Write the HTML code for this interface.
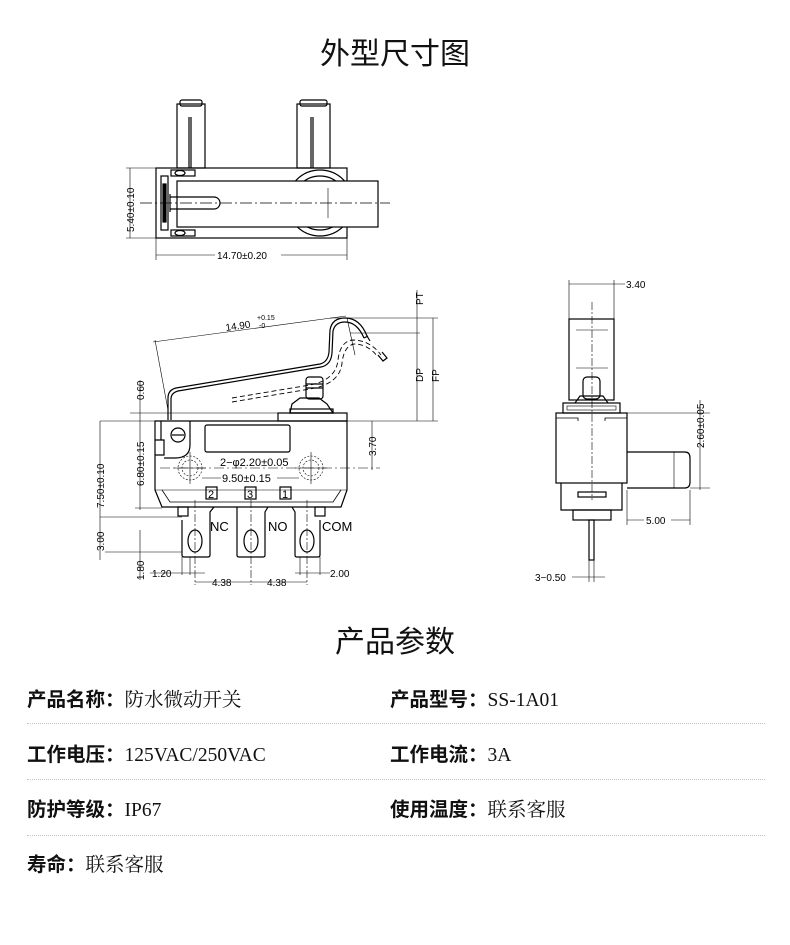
<!DOCTYPE html>
<html><head><meta charset="utf-8"><style>
html,body{margin:0;padding:0;background:#fff;}
body{width:790px;height:945px;position:relative;overflow:hidden;font-family:"Liberation Sans","Noto Sans CJK SC",sans-serif;}
.h{position:absolute;left:0;width:790px;text-align:center;font-size:30px;color:#111;font-family:"Noto Sans CJK SC",sans-serif;}
.row{position:absolute;font-size:19.5px;color:#111;white-space:nowrap;}
.row b{font-family:"Noto Sans CJK SC",sans-serif;font-weight:bold;}
.row span{font-family:"Liberation Serif","Noto Serif CJK SC",serif;}
.line{position:absolute;left:27px;width:738px;border-top:1px dotted #c4c4c4;}
svg{position:absolute;left:0;top:0;}
</style></head><body>
<div class="h" style="top:29px;">外型尺寸图</div>
<div class="h" style="top:617px;">产品参数</div>

<svg width="790" height="600" viewBox="0 0 790 600" fill="none" stroke="#000" stroke-width="1.2" font-family="Liberation Sans, sans-serif">
<!-- TOP VIEW -->
<g>
<rect x="177" y="104" width="28" height="64"/>
<rect x="180" y="100" width="22" height="6" rx="2"/>
<line x1="189" y1="117" x2="189" y2="168"/><line x1="191" y1="117" x2="191" y2="168"/>
<rect x="297" y="104" width="33" height="64"/>
<rect x="300" y="100" width="27" height="6" rx="2"/>
<line x1="311" y1="117" x2="311" y2="168"/><line x1="313" y1="117" x2="313" y2="168"/>
<rect x="156" y="168" width="191" height="70"/>
<circle cx="320" cy="203" r="33"/>
<circle cx="320" cy="203" r="27"/>
<rect x="177" y="181" width="201" height="46" fill="#fff"/>
<rect x="171" y="170" width="24" height="6"/><rect x="171" y="230" width="24" height="6"/>
<ellipse cx="180" cy="173" rx="5" ry="2.5"/><ellipse cx="180" cy="233" rx="5" ry="2.5"/>
<rect x="161" y="176" width="7" height="54"/>
<rect x="163" y="184" width="3" height="38" fill="#000"/>
<path d="M170 197 H214 A6 6 0 0 1 214 209 H170"/>
<line x1="170" y1="194" x2="170" y2="212"/>
<line x1="140" y1="203" x2="390" y2="203" stroke-width="0.7" stroke-dasharray="12,3,2,3"/>
<line x1="328" y1="188" x2="328" y2="218" stroke-width="0.6"/>
<line x1="126" y1="168" x2="156" y2="168" stroke-width="0.6"/>
<line x1="126" y1="238" x2="156" y2="238" stroke-width="0.6"/>
<line x1="130" y1="168" x2="130" y2="238" stroke-width="0.6"/>
<text x="134" y="232" transform="rotate(-90 134 232)" font-size="10" fill="#000" stroke="none">5.40±0.10</text>
<line x1="156" y1="238" x2="156" y2="260" stroke-width="0.6"/>
<line x1="347" y1="238" x2="347" y2="260" stroke-width="0.6"/>
<line x1="156" y1="255" x2="347" y2="255" stroke-width="0.6"/>
<rect x="215" y="249" width="66" height="11" fill="#fff" stroke="none"/>
<text x="217" y="259" font-size="10" fill="#000" stroke="none">14.70±0.20</text>
</g>

<!-- FRONT VIEW -->
<g>
<path d="M155 421 H347 V490 L341 507 H162 L155 490 Z"/>
<line x1="155" y1="490" x2="347" y2="490" stroke-width="0.6"/>
<path d="M162 490 L170 502 H333 L341 490" stroke-width="0.8"/>
<rect x="278" y="413" width="69" height="8"/>
<path d="M290 413 L292 404 L300 398 H319 L327 404 L333 413 Z"/>
<rect x="290" y="409" width="43" height="4"/>
<rect x="306" y="377" width="17" height="22" rx="3"/>
<line x1="306" y1="384" x2="323" y2="384"/><line x1="306" y1="388" x2="323" y2="388"/>
<path d="M155 440 H164 V455 H155"/>
<path d="M161 421 V440" />
<circle cx="178" cy="435" r="7"/><line x1="172" y1="435" x2="184" y2="435"/>
<path d="M190 421 V445 Q190 458 175 458 H164"/>
<rect x="205" y="425" width="85" height="27" rx="2"/>
<g stroke-width="0.6" stroke-dasharray="2,1.5">
<circle cx="190" cy="468" r="12"/><circle cx="190" cy="468" r="8"/>
<circle cx="311" cy="468" r="12"/><circle cx="311" cy="468" r="8"/>
</g>
<g stroke-width="0.6">
<line x1="190" y1="452" x2="190" y2="484"/><line x1="174" y1="468" x2="206" y2="468"/>
<line x1="311" y1="452" x2="311" y2="484"/><line x1="295" y1="468" x2="327" y2="468"/>
<line x1="160" y1="468" x2="380" y2="468" stroke-dasharray="10,3,2,3"/>
</g>
<text x="220" y="466" font-size="11" fill="#000" stroke="none">2−φ2.20±0.05</text>
<line x1="202" y1="478" x2="299" y2="478" stroke-width="0.6"/>
<rect x="221" y="472" width="56" height="11" fill="#fff" stroke="none"/>
<text x="222" y="482" font-size="11" fill="#000" stroke="none">9.50±0.15</text>
<rect x="206" y="487" width="11" height="12"/><text x="208" y="498" font-size="11" fill="#000" stroke="none">2</text>
<rect x="245" y="487" width="11" height="12"/><text x="247" y="498" font-size="11" fill="#000" stroke="none">3</text>
<rect x="280" y="487" width="11" height="12"/><text x="282" y="498" font-size="11" fill="#000" stroke="none">1</text>
<path d="M182 520 V555 Q182 557 184 557 H208 Q210 557 210 555 V512 L214 507"/>
<rect x="178" y="507" width="10" height="9"/>
<path d="M237 507 L237 512 V555 Q237 557 239 557 H263 Q265 557 265 555 V512 L268 507"/>
<path d="M292 507 L295 512 V555 Q295 557 297 557 H318 Q320 557 320 555 V520"/>
<rect x="315" y="507" width="10" height="9"/>
<ellipse cx="195" cy="541" rx="7" ry="11"/>
<ellipse cx="251" cy="541" rx="7" ry="11"/>
<ellipse cx="307" cy="541" rx="7" ry="11"/>
<g stroke-width="0.6" stroke-dasharray="8,2,2,2"><line x1="195" y1="500" x2="195" y2="585"/><line x1="251" y1="500" x2="251" y2="585"/><line x1="307" y1="500" x2="307" y2="585"/></g>
<text x="210" y="531" font-size="13" fill="#000" stroke="none">NC</text>
<text x="268" y="531" font-size="13" fill="#000" stroke="none">NO</text>
<text x="322" y="531" font-size="13" fill="#000" stroke="none">COM</text>
<path d="M168 420 V398 Q168 390 176 388 L320 364 Q328 362 329 352 L330 330 Q332 318 345 318 Q360 318 367 336"/>
<path d="M171 420 V399 Q171 393 178 391 L321 367 Q331 365 332 353 L333 331 Q335 322 345 322 Q357 322 364 338"/>
<path d="M364 338 L368 336 M367 336 L370 341" />
<g stroke-dasharray="5,3" stroke-width="0.9"><path d="M232 398 L310 385 Q336 380 338 360 Q340 342 352 340 Q370 340 381 355"/><path d="M232 402 L310 389 Q340 384 342 363 Q344 346 354 344 Q368 344 378 357"/></g>
<path d="M378 355 L383 361 L387 358 L382 352"/>
<g stroke-width="0.6">
<line x1="155" y1="340" x2="168" y2="410"/>
<line x1="347" y1="318" x2="355" y2="355"/>
<line x1="153" y1="342" x2="346" y2="316"/>
<line x1="330" y1="318" x2="438" y2="318"/>
<line x1="350" y1="333" x2="420" y2="333"/>
<line x1="347" y1="421" x2="438" y2="421"/>
<line x1="100" y1="421" x2="155" y2="421"/>
<line x1="130" y1="413" x2="280" y2="413"/>
<line x1="417" y1="290" x2="417" y2="421"/>
<line x1="433" y1="318" x2="433" y2="421"/>
<line x1="372" y1="421" x2="372" y2="470"/>
<line x1="140" y1="380" x2="140" y2="510"/>
<line x1="100" y1="421" x2="100" y2="560"/>
<line x1="100" y1="517" x2="182" y2="517"/>
<line x1="105" y1="552" x2="182" y2="552"/>
<line x1="135" y1="508" x2="162" y2="508"/>
<line x1="140" y1="530" x2="140" y2="580"/>
<line x1="182" y1="557" x2="182" y2="575"/><line x1="190" y1="557" x2="190" y2="575"/>
<line x1="150" y1="573" x2="205" y2="573"/>
<line x1="195" y1="582" x2="307" y2="582"/>
<line x1="300" y1="557" x2="300" y2="575"/><line x1="320" y1="557" x2="320" y2="575"/>
<line x1="295" y1="573" x2="330" y2="573"/>
</g>
<g font-size="10" fill="#000" stroke="none">
<text x="226" y="331" transform="rotate(-8 226 331)">14.90</text>
<text x="257" y="320" font-size="7">+0.15</text><text x="259" y="328" font-size="7">-0</text>
<text x="423" y="305" transform="rotate(-90 423 305)">PT</text>
<text x="423" y="382" transform="rotate(-90 423 382)">DP</text>
<text x="439" y="382" transform="rotate(-90 439 382)">FP</text>
<text x="376" y="456" transform="rotate(-90 376 456)">3.70</text>
<text x="144" y="400" transform="rotate(-90 144 400)">0.60</text>
<text x="144" y="486" transform="rotate(-90 144 486)">6.80±0.15</text>
<text x="104" y="508" transform="rotate(-90 104 508)">7.50±0.10</text>
<text x="104" y="551" transform="rotate(-90 104 551)">3.00</text>
<text x="144" y="580" transform="rotate(-90 144 580)">1.80</text>
<text x="152" y="577">1.20</text>
<text x="212" y="586">4.38</text>
<text x="267" y="586">4.38</text>
<text x="330" y="577">2.00</text>
</g>
</g>

<!-- SIDE VIEW -->
<g>
<rect x="569" y="319" width="45" height="81"/>
<line x1="576" y1="330" x2="608" y2="330" stroke-width="0.6"/>
<line x1="576" y1="368" x2="608" y2="368" stroke-width="0.6"/>
<rect x="583" y="377" width="17" height="22" rx="4" fill="#fff"/>
<path d="M575 403 L580 396 H603 L608 403"/>
<rect x="563" y="403" width="57" height="10"/>
<rect x="567" y="406" width="49" height="4" stroke-width="0.6"/>
<rect x="556" y="413" width="71" height="70"/>
<path d="M556 418 H578 V421 M627 418 H605 V421" stroke-width="0.8"/>
<path d="M561 483 V510 H622 V483"/>
<rect x="573" y="510" width="38" height="10"/>
<rect x="578" y="492" width="28" height="5"/>
<rect x="589" y="520" width="5" height="40"/>
<path d="M627 452 H685 Q690 452 690 458 V482 Q690 488 685 488 H627"/>
<line x1="674" y1="452" x2="674" y2="488" stroke-width="0.6"/>
<line x1="592" y1="302" x2="592" y2="500" stroke-width="0.6" stroke-dasharray="8,2,2,2"/>
<g stroke-width="0.6">
<line x1="569" y1="280" x2="569" y2="319"/><line x1="614" y1="280" x2="614" y2="319"/>
<line x1="569" y1="284" x2="625" y2="284"/>
<line x1="620" y1="413" x2="710" y2="413"/>
<line x1="690" y1="488" x2="710" y2="488"/>
<line x1="700" y1="400" x2="700" y2="490"/>
<line x1="690" y1="490" x2="690" y2="525"/>
<line x1="627" y1="490" x2="627" y2="525"/>
<line x1="627" y1="520" x2="690" y2="520"/>
<line x1="589" y1="560" x2="589" y2="582"/><line x1="594" y1="560" x2="594" y2="582"/>
<line x1="572" y1="577" x2="605" y2="577"/>
</g>
<g font-size="10" fill="#000" stroke="none">
<text x="626" y="288">3.40</text>
<text x="704" y="448" transform="rotate(-90 704 448)">2.60±0.05</text>
<rect x="644" y="514" width="27" height="12" fill="#fff"/>
<text x="646" y="524">5.00</text>
<text x="535" y="581">3−0.50</text>
</g>
</g>
</svg>

<div class="row" style="left:27px;top:683px;"><b>产品名称：</b><span style="font-family:'Noto Serif CJK SC',serif">防水微动开关</span></div>
<div class="row" style="left:390px;top:683px;"><b>产品型号：</b><span>SS-1A01</span></div>
<div class="line" style="top:723px;"></div>
<div class="row" style="left:27px;top:738px;"><b>工作电压：</b><span>125VAC/250VAC</span></div>
<div class="row" style="left:390px;top:738px;"><b>工作电流：</b><span>3A</span></div>
<div class="line" style="top:779px;"></div>
<div class="row" style="left:27px;top:793px;"><b>防护等级：</b><span>IP67</span></div>
<div class="row" style="left:390px;top:793px;"><b>使用温度：</b><span>联系客服</span></div>
<div class="line" style="top:835px;"></div>
<div class="row" style="left:27px;top:848px;"><b>寿命：</b><span>联系客服</span></div>
</body></html>
